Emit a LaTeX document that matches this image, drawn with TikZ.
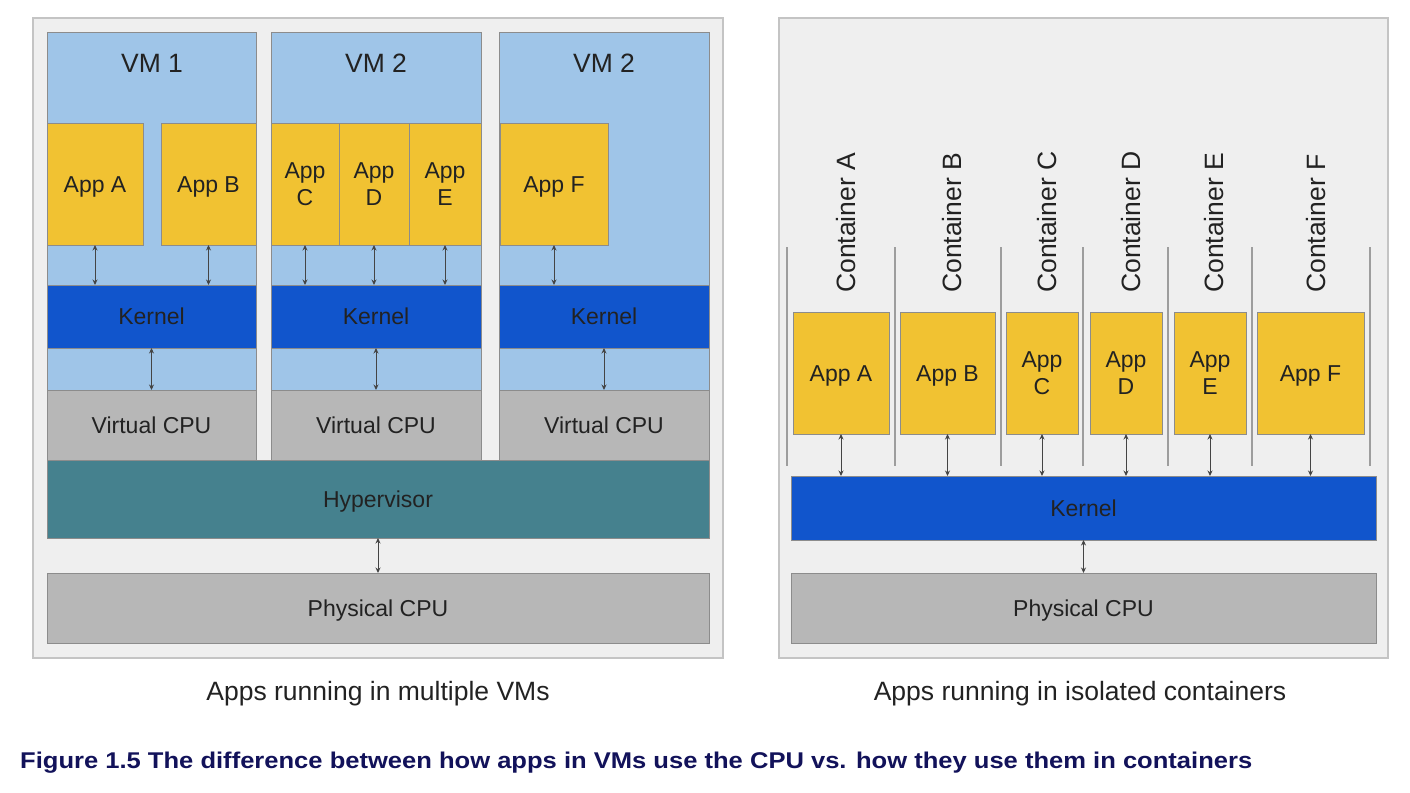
\documentclass[tikz,border=0pt]{standalone}
\usepackage{fontspec}
\setmainfont{Liberation Sans}
\usepackage{graphicx}
\usepackage{xcolor}
\usepackage{tikz}
\usetikzlibrary{arrows.meta,positioning}

\definecolor{panelbg}{HTML}{EFEFEF}
\definecolor{panelline}{HTML}{C4C4C4}
\definecolor{vmblue}{HTML}{9FC5E8}
\definecolor{appyellow}{HTML}{F1C232}
\definecolor{kernelblue}{HTML}{1155CC}
\definecolor{cpugray}{HTML}{B7B7B7}
\definecolor{hypteal}{HTML}{45818E}
\definecolor{linegray}{HTML}{8C8C8C}
\definecolor{arrgray}{HTML}{444444}
\definecolor{txtcol}{HTML}{222222}
\definecolor{figblue}{HTML}{12125A}

\begin{document}
\begin{tikzpicture}[
  x=1pt, y=-1pt,
  box/.style={rectangle, draw=linegray, line width=1pt, inner sep=0pt, outer sep=0pt,
              anchor=north west, align=center, text=txtcol,
              font=\fontsize{23}{27}\selectfont},
  one/.style={text height=16.5pt, text depth=0pt},
  panel/.style={rectangle, draw=panelline, line width=2pt, fill=panelbg, inner sep=0pt,
                outer sep=0pt, anchor=north west},
  app/.style={box, fill=appyellow, minimum height=122pt},
  vm/.style={box, fill=vmblue, minimum width=#1, minimum height=357pt},
  kern/.style={box, one, fill=kernelblue, minimum height=63pt},
  cpu/.style={box, one, fill=cpugray, minimum height=70pt},
  arr/.style={{Stealth[length=5.5pt,width=5pt]}-{Stealth[length=5.5pt,width=5pt]}, line width=1pt, draw=arrgray},
  divl/.style={draw=linegray!85, line width=1.8pt},
  big/.style={text=txtcol, inner sep=0pt, font=\fontsize{26.5}{30}\selectfont},
]
\fill[white] (0,0) rectangle (1410,792);
\useasboundingbox (0,0) rectangle (1410,792);

% left panel: apps in VMs
\node[panel, minimum width=690pt, minimum height=640pt] (vmpanel) at (33,18) {};
\node[vm=209pt] (vm1) at (47,33) {};
\node[vm=210pt] (vm2) at (271,33) {};
\node[vm=210pt] (vm3) at (499,33) {};
\node[big] (vm1lab) at (152,63) {VM 1};
\node[big] (vm2lab) at (376,63) {VM 2};
\node[big] (vm3lab) at (604,63) {VM 2};
\node[app, one, minimum width=96pt] (vappA) at (47,123) {App A};
\node[app, one, minimum width=95pt] (vappB) at (161,123) {App B};
\node[app, minimum width=68pt] (vappC) at (271,123) {App\\C};
\node[app, minimum width=70pt] (vappD) at (339,123) {App\\D};
\node[app, minimum width=72pt] (vappE) at (409,123) {App\\E};
\node[app, one, minimum width=108pt] (vappF) at (500,123) {App F};
\node[kern, minimum width=209pt] (kern1) at (47,285) {Kernel};
\node[kern, minimum width=210pt] (kern2) at (271,285) {Kernel};
\node[kern, minimum width=210pt] (kern3) at (499,285) {Kernel};
\node[cpu, minimum width=209pt] (vcpu1) at (47,390) {Virtual CPU};
\node[cpu, minimum width=210pt] (vcpu2) at (271,390) {Virtual CPU};
\node[cpu, minimum width=210pt] (vcpu3) at (499,390) {Virtual CPU};
\node[box, one, fill=hypteal, minimum width=662pt, minimum height=78pt] (hyp) at (47,460) {Hypervisor};
\node[cpu, minimum width=662pt] (phys1) at (47,573) {Physical CPU};
\draw[arr] (vappA.south) -- (vappA.south |- kern1.north);
\draw[arr] (vappB.south) -- (vappB.south |- kern1.north);
\draw[arr] (vappC.south) -- (vappC.south |- kern2.north);
\draw[arr] (vappD.south) -- (vappD.south |- kern2.north);
\draw[arr] (vappE.south) -- (vappE.south |- kern2.north);
\draw[arr] (vappF.south) -- (vappF.south |- kern3.north);
\draw[arr] (kern1.south) -- (vcpu1.north);
\draw[arr] (kern2.south) -- (vcpu2.north);
\draw[arr] (kern3.south) -- (vcpu3.north);
\draw[arr] (hyp.south) -- (phys1.north);
\node[big, anchor=base] (vmcap) at (378,700) {Apps running in multiple VMs};

% right panel: apps in containers
\node[panel, minimum width=609pt, minimum height=640pt] (ctpanel) at (779,18) {};
\draw[divl] (787,247) -- (787,466); \draw[divl] (895,247) -- (895,466);
\draw[divl] (1001,247) -- (1001,466); \draw[divl] (1083,247) -- (1083,466);
\draw[divl] (1168,247) -- (1168,466); \draw[divl] (1252,247) -- (1252,466);
\draw[divl] (1370,247) -- (1370,466);
\node[big, rotate=90, anchor=west] (ctA) at (846,293) {Container A};
\node[big, rotate=90, anchor=west] (ctB) at (952,293) {Container B};
\node[big, rotate=90, anchor=west] (ctC) at (1047,293) {Container C};
\node[big, rotate=90, anchor=west] (ctD) at (1131,293) {Container D};
\node[big, rotate=90, anchor=west] (ctE) at (1214,293) {Container E};
\node[big, rotate=90, anchor=west] (ctF) at (1316,293) {Container F};
\node[app, one, minimum width=96pt] (cappA) at (793,312) {App A};
\node[app, one, minimum width=95pt] (cappB) at (900,312) {App B};
\node[app, minimum width=72pt] (cappC) at (1006,312) {App\\C};
\node[app, minimum width=72pt] (cappD) at (1090,312) {App\\D};
\node[app, minimum width=72pt] (cappE) at (1174,312) {App\\E};
\node[app, one, minimum width=107pt] (cappF) at (1257,312) {App F};
\node[kern, minimum width=585pt, minimum height=64pt] (kern4) at (791,476) {Kernel};
\node[cpu, minimum width=585pt] (phys2) at (791,573) {Physical CPU};
\draw[arr] (cappA.south) -- (cappA.south |- kern4.north);
\draw[arr] (cappB.south) -- (cappB.south |- kern4.north);
\draw[arr] (cappC.south) -- (cappC.south |- kern4.north);
\draw[arr] (cappD.south) -- (cappD.south |- kern4.north);
\draw[arr] (cappE.south) -- (cappE.south |- kern4.north);
\draw[arr] (cappF.south) -- (cappF.south |- kern4.north);
\draw[arr] (kern4.south) -- (phys2.north);
\node[big, anchor=base] (ctcap) at (1080,700) {Apps running in isolated containers};

% figure caption
\node[anchor=base west, inner sep=0pt, text=figblue] (figcap) at (20,768)
  {\resizebox{1232pt}{16.5pt}{\bfseries Figure 1.5 The difference between how apps in VMs use the CPU vs. how they use them in containers}};
\end{tikzpicture}
\end{document}
